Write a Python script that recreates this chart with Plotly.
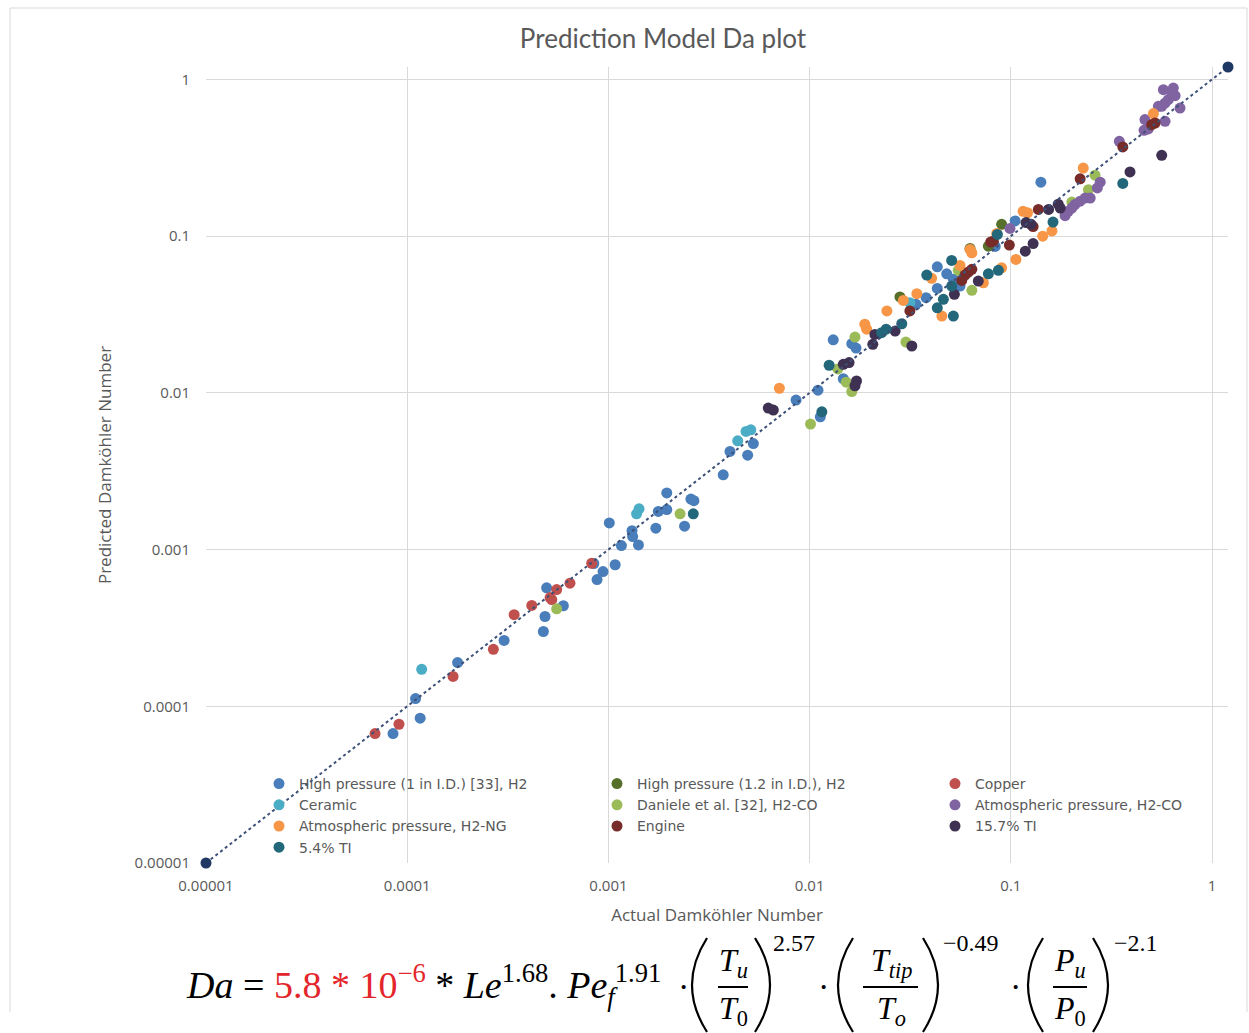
import plotly.graph_objects as go

# ---------------- data ----------------
series_names = [
    "High pressure (1 in I.D.) [33], H2",
    "High pressure (1.2 in I.D.), H2",
    "Copper",
    "Ceramic",
    "Daniele et al. [32], H2-CO",
    "Atmospheric pressure, H2-CO",
    "Atmospheric pressure, H2-NG",
    "Engine",
    "15.7% TI",
    "5.4% TI",
]

hp1_x = [8.5e-5, 1.10e-4, 1.16e-4, 1.78e-4, 3.03e-4, 4.75e-4, 4.84e-4, 4.93e-4, 5.97e-4, 8.78e-4,
         9.4e-4, 1.08e-3, 8.46e-4, 1.01e-3, 1.16e-3, 1.31e-3, 1.32e-3, 1.41e-3, 1.72e-3, 1.77e-3,
         1.95e-3, 1.95e-3, 2.39e-3, 2.57e-3, 2.66e-3, 3.72e-3, 4.02e-3, 4.92e-3, 5.25e-3, 8.56e-3,
         1.10e-2, 1.13e-2, 1.31e-2, 1.47e-2, 1.62e-2, 1.70e-2, 3.79e-2, 3.38e-2, 4.31e-2, 4.31e-2,
         4.80e-2, 5.18e-2, 5.59e-2, 8.36e-2, 0.105, 0.141]
hp1_y = [6.7e-5, 1.12e-4, 8.4e-5, 1.9e-4, 2.63e-4, 3.0e-4, 3.74e-4, 5.7e-4, 4.38e-4, 6.44e-4,
         7.24e-4, 8.0e-4, 8.15e-4, 1.48e-3, 1.06e-3, 1.32e-3, 1.21e-3, 1.07e-3, 1.37e-3, 1.75e-3,
         1.80e-3, 2.30e-3, 1.41e-3, 2.10e-3, 2.05e-3, 3.0e-3, 4.23e-3, 4.0e-3, 4.75e-3, 9.0e-3,
         1.04e-2, 7.03e-3, 2.18e-2, 1.23e-2, 2.06e-2, 1.93e-2, 4.05e-2, 3.67e-2, 6.37e-2, 4.64e-2,
         5.75e-2, 5.30e-2, 4.80e-2, 8.6e-2, 0.125, 0.221]

hp12_x = [9.0e-2, 7.73e-2, 6.27e-2, 2.81e-2]
hp12_y = [0.119, 8.63e-2, 8.35e-2, 4.09e-2]

copper_x = [6.92e-5, 9.1e-5, 1.69e-4, 2.68e-4, 3.4e-4, 4.16e-4, 5.13e-4, 5.23e-4, 5.53e-4, 6.44e-4, 8.26e-4]
copper_y = [6.7e-5, 7.68e-5, 1.55e-4, 2.31e-4, 3.84e-4, 4.4e-4, 4.94e-4, 4.8e-4, 5.56e-4, 6.1e-4, 8.18e-4]

ceramic_x = [1.18e-4, 1.38e-3, 1.42e-3, 4.39e-3, 4.83e-3, 5.1e-3, 3.15e-2]
ceramic_y = [1.72e-4, 1.69e-3, 1.82e-3, 4.94e-3, 5.67e-3, 5.81e-3, 3.76e-2]

daniele_x = [5.53e-4, 2.27e-3, 1.01e-2, 1.38e-2, 1.52e-2, 1.62e-2, 1.68e-2, 3.01e-2, 5.48e-2, 6.4e-2,
             0.243, 0.262, 0.201]
daniele_y = [4.19e-4, 1.69e-3, 6.32e-3, 1.42e-2, 1.17e-2, 1.02e-2, 2.27e-2, 2.11e-2, 6.05e-2, 4.51e-2,
             0.198, 0.245, 0.165]

h2co_x = [0.099, 0.186, 0.193, 0.201, 0.208, 0.221, 0.234, 0.248, 0.269, 0.278, 0.346, 0.459,
          0.482, 0.464, 0.541, 0.562, 0.584, 0.606, 0.573, 0.642, 0.631, 0.655, 0.693, 0.584]
h2co_y = [0.112, 0.135, 0.144, 0.151, 0.159, 0.167, 0.175, 0.175, 0.203, 0.221, 0.403, 0.473,
          0.483, 0.554, 0.673, 0.673, 0.706, 0.743, 0.86, 0.88, 0.826, 0.787, 0.656, 0.54]

h2ng_x = [7.07e-3, 1.88e-2, 1.92e-2, 2.42e-2, 2.92e-2, 3.41e-2, 4.04e-2, 4.54e-2, 5.59e-2, 6.27e-2,
          6.4e-2, 7.3e-2, 8.51e-2, 9.0e-2, 0.106, 0.115, 0.121, 0.144, 0.16, 0.229, 0.511]
h2ng_y = [1.07e-2, 2.74e-2, 2.55e-2, 3.33e-2, 3.89e-2, 4.29e-2, 5.38e-2, 3.09e-2, 6.5e-2, 8.23e-2,
          7.83e-2, 5.04e-2, 0.104, 6.28e-2, 7.1e-2, 0.144, 0.141, 0.1, 0.108, 0.272, 0.605]

engine_x = [3.15e-2, 5.7e-2, 5.92e-2, 6.15e-2, 6.4e-2, 7.94e-2, 8.19e-2, 9.83e-2, 0.129, 0.137,
            0.221, 0.36, 0.501, 0.521]
engine_y = [3.33e-2, 5.22e-2, 5.64e-2, 5.9e-2, 6.14e-2, 9.16e-2, 9.29e-2, 8.77e-2, 0.115, 0.148,
            0.232, 0.371, 0.514, 0.527]

ti157_x = [6.23e-3, 6.6e-3, 1.47e-2, 1.57e-2, 1.71e-2, 1.68e-2, 2.06e-2, 2.11e-2, 2.66e-2, 3.22e-2,
           5.24e-2, 6.89e-2, 0.118, 0.129, 0.119, 0.126, 0.154, 0.172, 0.176, 0.391, 0.562]
ti157_y = [7.99e-3, 7.76e-3, 1.52e-2, 1.56e-2, 1.19e-2, 1.11e-2, 2.04e-2, 2.36e-2, 2.48e-2, 1.99e-2,
           4.25e-2, 5.17e-2, 8.02e-2, 8.96e-2, 0.122, 0.119, 0.148, 0.16, 0.151, 0.257, 0.328]

ti54_x = [2.64e-3, 1.15e-2, 1.25e-2, 2.28e-2, 2.4e-2, 2.87e-2, 3.82e-2, 4.31e-2, 4.62e-2, 5.08e-2,
          5.08e-2, 5.18e-2, 7.73e-2, 8.67e-2, 8.57e-2, 0.162, 0.36]
ti54_y = [1.69e-3, 7.57e-3, 1.5e-2, 2.42e-2, 2.55e-2, 2.76e-2, 5.64e-2, 3.49e-2, 3.95e-2, 7.0e-2,
          4.8e-2, 3.09e-2, 5.75e-2, 6.05e-2, 0.1025, 0.123, 0.217]

ref_x = [1e-5, 1.2]
ref_y = [1e-5, 1.2]

tick_vals = [1e-5, 1e-4, 1e-3, 1e-2, 1e-1, 1]
tick_text = ["0.00001", "0.0001", "0.001", "0.01", "0.1", "1"]

series_x = [hp1_x, hp12_x, copper_x, ceramic_x, daniele_x, h2co_x, h2ng_x, engine_x, ti157_x, ti54_x]
series_y = [hp1_y, hp12_y, copper_y, ceramic_y, daniele_y, h2co_y, h2ng_y, engine_y, ti157_y, ti54_y]
colors = ["#4a7ebb", "#56702c", "#c0504d", "#4bacc6", "#9bbb59",
          "#8064a2", "#f79646", "#772c2a", "#3f3151", "#23687a"]

# ---------------- layout geometry ----------------
W, H = 1249, 1033
L, R, T, B = 206, 21, 67, 170
PW, PH = W - L - R, H - T - B


def px(x):
    return (x - L) / PW


def py(y):
    return (H - B - y) / PH


fig = go.Figure()

for name, xs, ys, c in zip(series_names, series_x, series_y, colors):
    fig.add_trace(go.Scatter(
        x=xs, y=ys, mode="markers", name=name,
        marker=dict(size=11, color=c, line=dict(width=0)),
    ))

fig.add_trace(go.Scatter(
    x=ref_x, y=ref_y, mode="lines+markers", showlegend=False, cliponaxis=False,
    line=dict(color="#3d5178", width=2, dash="dot"),
    marker=dict(size=11, color="#1f3864"),
))

axis_font = dict(family="Open Sans", size=15, color="#595959")
title_font = dict(family="Open Sans", size=17, color="#595959")

fig.update_layout(
    width=W, height=H,
    margin=dict(l=L, r=R, t=T, b=B, autoexpand=False),
    paper_bgcolor="white", plot_bgcolor="white",
    title=dict(text="Prediction Model Da plot", x=663 / W, xref="container",
               y=1 - 39 / H, yanchor="middle", xanchor="center",
               font=dict(family="Lato", size=26, color="#595959")),
    showlegend=True,
    legend=dict(orientation="h", x=px(259), y=py(768), xanchor="left", yanchor="top",
                entrywidth=293, entrywidthmode="pixels", bgcolor="rgba(0,0,0,0)",
                font=dict(family="DejaVu Sans", size=14, color="#595959"),
                itemclick=False, tracegroupgap=0),
    xaxis=dict(type="log", range=[-5, 0.0792], tickvals=tick_vals, ticktext=tick_text,
               showgrid=True, gridcolor="#d9d9d9", gridwidth=1, zeroline=False, showline=False,
               ticks="", tickfont=axis_font, ticklabelstandoff=12,
               title=dict(text="Actual Damköhler Number", font=title_font, standoff=15)),
    yaxis=dict(type="log", range=[-5, 0.0792], tickvals=tick_vals, ticktext=tick_text,
               showgrid=True, gridcolor="#d9d9d9", gridwidth=1, zeroline=False, showline=False,
               ticks="", tickfont=axis_font, ticklabelstandoff=15,
               title=dict(text="Predicted Damköhler Number", font=title_font, standoff=18)),
)

# chart-area frame (top, left, right edges)
frame = dict(color="#d9d9d9", width=1)
fig.add_shape(type="line", xref="paper", yref="paper", x0=px(10), x1=px(1247), y0=py(8), y1=py(8), line=frame)
fig.add_shape(type="line", xref="paper", yref="paper", x0=px(10), x1=px(10), y0=py(8), y1=py(1012), line=frame)
fig.add_shape(type="line", xref="paper", yref="paper", x0=px(1247), x1=px(1247), y0=py(8), y1=py(1012), line=frame)

# ---------------- equation ----------------
serif = "Liberation Serif"


def ann(text, x, y, size, anchor="center", color="black"):
    fig.add_annotation(text=text, x=px(x), y=py(y), xref="paper", yref="paper",
                       xanchor=anchor, yanchor="middle", showarrow=False, borderpad=0,
                       font=dict(family=serif, size=size, color=color))


ann("<i>Da</i> = <span style='color:#e3262b'>5.8 * 10<sup>−6</sup></span> * <i>Le</i><sup>1.68</sup>. "
    "<i>Pe<sub>f</sub></i><sup>1.91</sup>", 185, 985, 38, anchor="left")
ann("·", 683, 987, 34)

fracs = [
    # numerator, denominator, centre x, line x0, x1, left paren x, right paren x, exponent, exp x
    ("<i>T<sub>u</sub></i>", "<i>T</i><sub>0</sub>", 733, 718, 748, 707, 755, "2.57", 794),
    ("<i>T<sub>tip</sub></i>", "<i>T<sub>o</sub></i>", 891, 863, 918, 853, 923, "−0.49", 971),
    ("<i>P<sub>u</sub></i>", "<i>P</i><sub>0</sub>", 1070, 1053, 1087, 1043, 1093, "−2.1", 1136),
]
for num, den, cx, lx0, lx1, lp, rp, ex, exx in fracs:
    ann(num, cx, 962, 32)
    ann(den, cx, 1010, 32)
    fig.add_shape(type="line", xref="paper", yref="paper", x0=px(lx0), x1=px(lx1),
                  y0=py(987), y1=py(987), line=dict(color="black", width=2))
    for p0, ctrl in ((lp, lp - 30), (rp, rp + 30)):
        path = "M {:.5f} {:.5f} Q {:.5f} {:.5f} {:.5f} {:.5f}".format(
            px(p0), py(938), px(ctrl), py(985), px(p0), py(1032))
        fig.add_shape(type="path", xref="paper", yref="paper", path=path,
                      line=dict(color="black", width=2.2))
    ann(ex, exx, 943, 24)

ann("·", 823, 987, 34)
ann("·", 1015, 987, 34)

fig.write_html("out.html")
